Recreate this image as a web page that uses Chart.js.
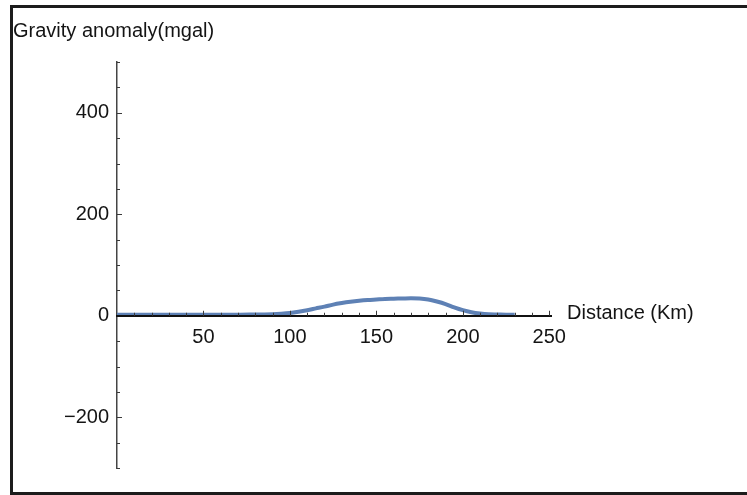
<!DOCTYPE html>
<html>
<head>
<meta charset="utf-8">
<script src="https://cdn.jsdelivr.net/npm/chart.js@4/dist/chart.umd.min.js"></script>
<style>
  html, body { margin: 0; padding: 0; background: #fff; }
  #wrap { position: relative; width: 747px; height: 495px; overflow: hidden; }
  #frame {
    position: absolute; left: 10px; top: 5px; width: 760px; height: 490px;
    box-sizing: border-box;
    border-top: 3px solid #1c1c1c; border-left: 3px solid #1c1c1c; border-bottom: 3px solid #1c1c1c;
  }
  canvas { position: absolute; left: 0; top: 0; }
</style>
</head>
<body>
<div id="wrap">
  <div id="frame"></div>
  <canvas id="chart" width="747" height="495"></canvas>
</div>
<script>
// Gravity anomaly profile along the line of section
const distanceKm = [0, 10, 20, 30, 40, 50, 60, 70, 80, 90, 95, 100, 105, 110, 115, 120, 125, 130, 135, 140,
  145, 150, 155, 160, 165, 170, 175, 180, 185, 190, 195, 200, 205, 210, 215, 220, 225, 230];
const anomalyMgal = [2, 2, 2, 2, 2, 2, 2, 2, 2.5, 3, 4, 5.5, 8, 11, 14.5, 18, 22, 25, 27.5, 29.5,
  31, 32, 33, 33.5, 34, 34.5, 34, 32, 28, 23, 16.5, 11, 7, 4.5, 3, 2.5, 2, 2];

// Axis ticks: every value gets a mark, the labelled ones get a number
const xTickValues = [0, 10, 20, 30, 40, 50, 60, 70, 80, 90, 100, 110, 120, 130, 140, 150, 160, 170, 180, 190, 200, 210, 220, 230, 240, 250];
const xTickLabels = [50, 100, 150, 200, 250];
const yTickValues = [-300, -250, -200, -150, -100, -50, 0, 50, 100, 150, 200, 250, 300, 350, 400, 450, 500];
const yTickLabels = [-200, 0, 200, 400];

const xAxisTitle = 'Distance (Km)';
const yAxisTitle = 'Gravity anomaly(mgal)';

const FONT = '"Liberation Sans", Arial, sans-serif';
const TEXT = '#141414';

// Inward tick marks plus the two axis captions
const axisMarks = {
  id: 'axisMarks',
  afterDraw(chart) {
    const { ctx, scales: { x, y } } = chart;
    const y0 = y.getPixelForValue(0);
    const x0 = x.getPixelForValue(0);
    ctx.save();
    ctx.strokeStyle = '#3a3a3a';
    ctx.lineWidth = 1;
    x.ticks.forEach(t => {
      if (t.value === 0) return;
      const px = Math.round(x.getPixelForValue(t.value)) + 0.5;
      const len = t.value % 50 === 0 ? 5 : 3;
      ctx.beginPath(); ctx.moveTo(px, y0); ctx.lineTo(px, y0 - len); ctx.stroke();
    });
    y.ticks.forEach(t => {
      if (t.value === 0) return;
      const py = Math.round(y.getPixelForValue(t.value)) + 0.5;
      const len = t.value % 200 === 0 ? 5 : 3;
      ctx.beginPath(); ctx.moveTo(x0, py); ctx.lineTo(x0 + len, py); ctx.stroke();
    });
    ctx.fillStyle = TEXT;
    ctx.font = '20px ' + FONT;
    ctx.textBaseline = 'middle';
    ctx.textAlign = 'left';
    ctx.fillText(xAxisTitle, x.right + 16, y0 - 2);
    ctx.fillText(yAxisTitle, 13, 31);
    ctx.restore();
  }
};

new Chart(document.getElementById('chart'), {
  type: 'line',
  data: {
    datasets: [{
      data: distanceKm.map((d, i) => ({ x: d, y: anomalyMgal[i] })),
      borderColor: '#5e81b5',
      borderWidth: 4,
      pointRadius: 0,
      fill: false,
      cubicInterpolationMode: 'monotone'
    }]
  },
  options: {
    responsive: false,
    animation: false,
    layout: { padding: { left: 0, right: 196, top: 62, bottom: 27 } },
    plugins: { legend: { display: false }, tooltip: { enabled: false } },
    scales: {
      x: {
        type: 'linear',
        position: { y: 0 },
        min: 0, max: 251,
        grid: { display: false, drawTicks: false },
        border: { display: true, color: '#111', width: 2, z: 1 },
        afterBuildTicks: s => { s.ticks = xTickValues.map(v => ({ value: v })); },
        ticks: {
          autoSkip: false, maxRotation: 0, padding: 10,
          color: TEXT, font: { family: FONT, size: 20 },
          callback: v => xTickLabels.includes(v) ? String(v) : ''
        }
      },
      y: {
        type: 'linear',
        position: 'left',
        min: -300, max: 500,
        grid: { display: false, drawTicks: false },
        border: { display: true, color: '#444', width: 1.5 },
        afterBuildTicks: s => { s.ticks = yTickValues.map(v => ({ value: v })); },
        afterFit: s => { s.width = 117; },
        ticks: {
          autoSkip: false, padding: 8,
          color: TEXT, font: { family: FONT, size: 20 },
          callback: v => yTickLabels.includes(v) ? String(v).replace('-', '\u2212') : ''
        }
      }
    }
  },
  plugins: [axisMarks]
});
</script>
</body>
</html>
